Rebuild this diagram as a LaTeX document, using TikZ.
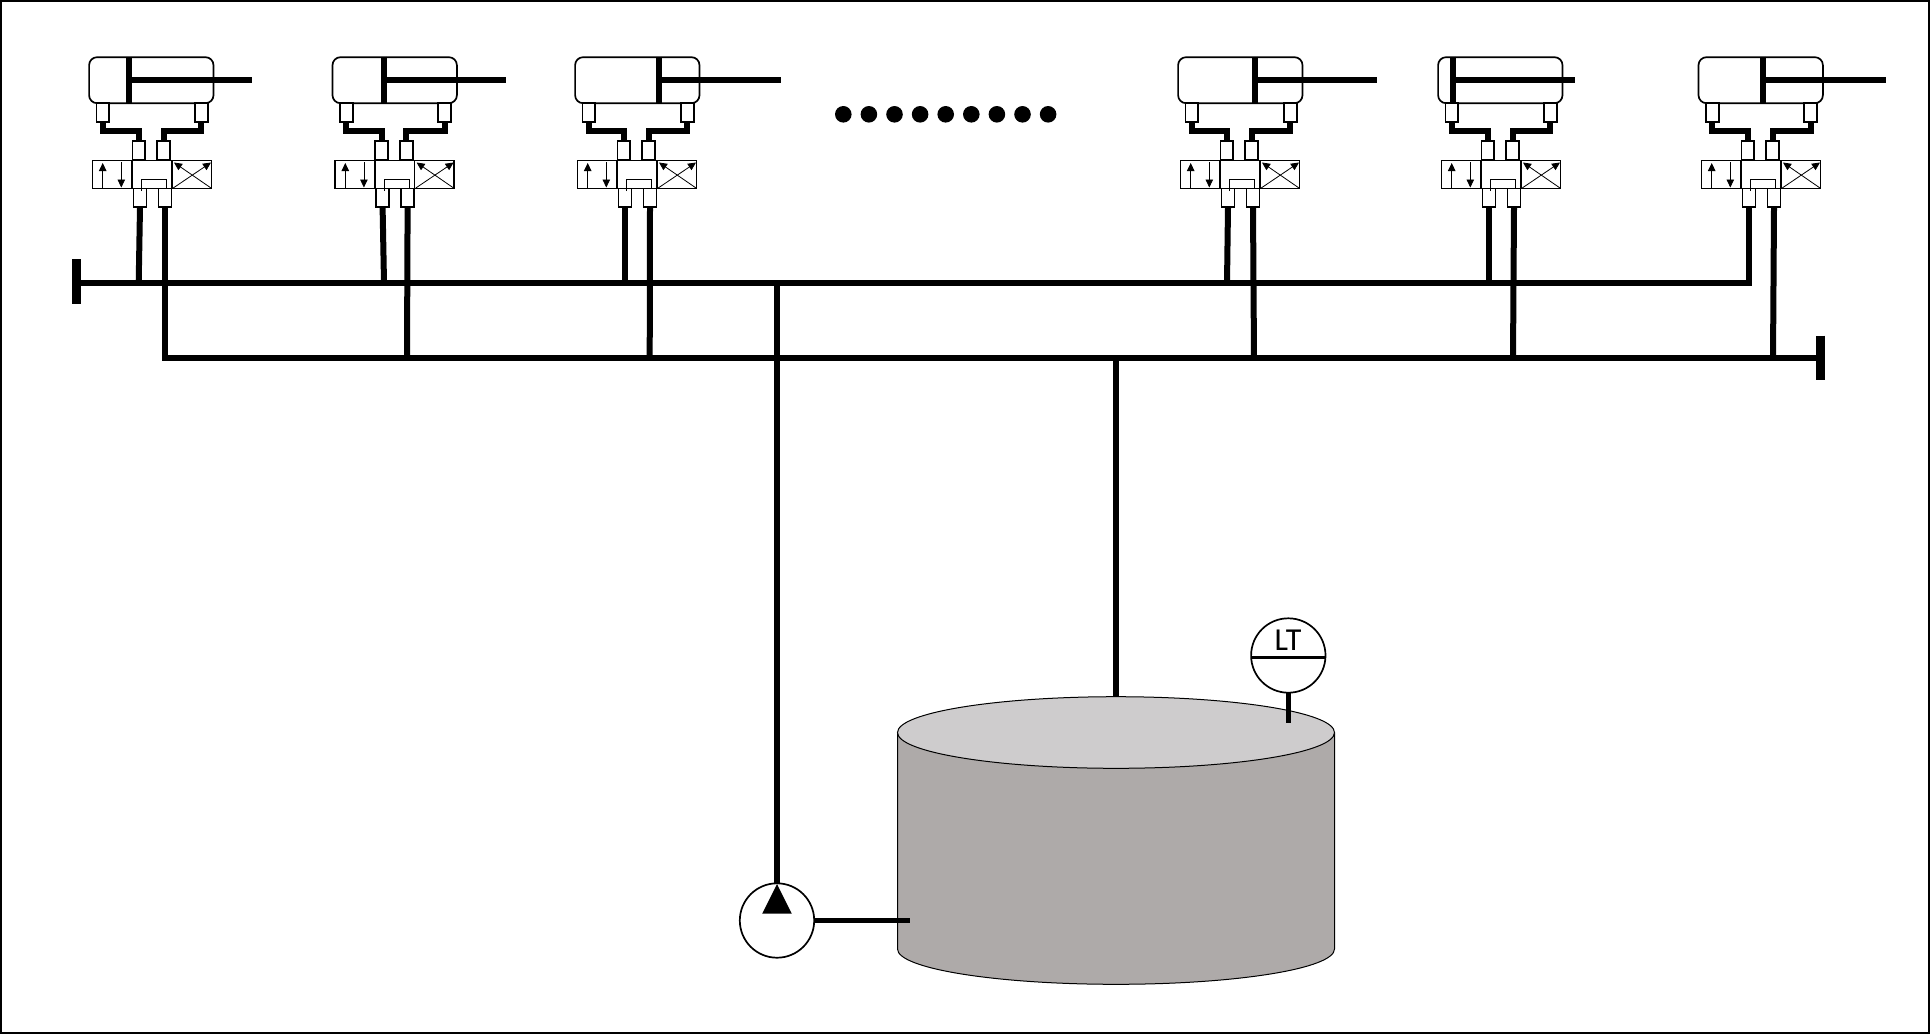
\documentclass[tikz,border=0pt]{standalone}
\usepackage{xcolor}
\usepackage{fontspec}
\setsansfont{Carlito}
\usetikzlibrary{arrows.meta}
\definecolor{tanktop}{HTML}{CECCCD}
\definecolor{tankbody}{HTML}{AEAAA9}
\tikzset{
  pipe/.style={line width=6pt},
  outline/.style={draw, line width=1.7pt, inner sep=0pt, outer sep=0pt},
  cylbody/.style={outline, rounded corners=8pt, anchor=north west, minimum width=124.4pt, minimum height=46pt},
  portbox/.style={outline, fill=white, anchor=north, minimum width=12.8pt, minimum height=18.8pt},
  valvecell/.style={outline, anchor=north west, minimum width=39.7pt, minimum height=28pt},
  thinarrow/.style={line width=0.8pt, -{Triangle[length=8pt,width=7.5pt]}},
  gauge/.style={outline, fill=white, circle, minimum size=74.4pt}
}

\begin{document}
\begin{tikzpicture}[x=1pt, y=-1pt]
  \useasboundingbox (0,0) rectangle (1930,1034);

  % Outer frame
  \draw[line width=2pt] (1,1) rectangle (1929,1033);

  % === TANK ===
  \fill[tankbody] (897.5,732.5) -- (897.5,949)
    arc[start angle=180, end angle=0, x radius=218.5, y radius=35.3] -- (1334.5,732.5) -- cycle;
  \draw[line width=1pt] (897.5,732.5) -- (897.5,949)
    arc[start angle=180, end angle=0, x radius=218.5, y radius=35.3] -- (1334.5,732.5);
  \draw[fill=tanktop, line width=1pt] (1116,732.5) ellipse[x radius=218.5, y radius=35.8];

  % === MAIN LINES ===
  \coordinate (buspress) at (777,282.7);
  \coordinate (busreturn) at (1116,358.3);
  \draw[pipe] (1116,696.7) -- (busreturn);

  % Pump and level transmitter
  \node[gauge] (pump) at (777,920.5) {};
  \draw[pipe] (buspress) -- (pump.north);
  \fill (777,884) -- (791.8,913.7) -- (762.2,913.7) -- cycle;
  \draw[line width=4.8pt] (pump.east) -- (909.6,920.5);

  \node[gauge] (lt) at (1288.3,655.5) {};
  \draw[line width=3pt] ([yshift=-1.5pt]lt.west) -- ([yshift=-1.5pt]lt.east);
  \draw[line width=5pt] (lt.south) -- (1288.3,723);
  \node[anchor=base, inner sep=0pt, font=\sffamily\fontsize{32}{36}\selectfont] (ltlabel) at (1288,650.7) {LT};

  % === CYLINDER AND VALVE UNITS ===
  % left of cylinder / left of valve / piston / rod end / lower pipe ends on the two lines
  \foreach \cl/\vl/\pist/\rodend/\lb/\rb [count=\i] in {
      88.3/91.7/129/251.7/138.7/165,
      331.7/334.3/384/506.3/384/407,
      574.3/576.7/659/781.3/625/649.7,
      1177.3/1179.7/1255/1377.3/1227/1254,
      1437.3/1440.7/1453/1575.3/1489/1513,
      1697.7/1700.7/1763/1885.7/1749/1773} {
    % Cylinder
    \node[cylbody] (cyl\i) at ({\cl+0.8},57.2) {};
    \draw[line width=5.6pt] (\pist,56.5) -- (\pist,103.5);
    \draw[line width=6pt] (\pist,80) -- (\rodend,80);

    % Ports
    \node[portbox] (cpa\i) at ({\cl+14.6},103.2) {};
    \node[portbox] (cpb\i) at ({\cl+113},103.2) {};
    \node[portbox] (vpa\i) at ({\vl+47.2},141) {};
    \node[portbox] (vpb\i) at ({\vl+72},141) {};
    \node[portbox, minimum width=13pt] (vqa\i) at ({\vl+48.3},188.5) {};
    \node[portbox, minimum width=13pt] (vqb\i) at ({\vl+73.3},188.5) {};

    % Pipes from cylinder to valve
    \draw[pipe] (cpa\i.south) -- ++(0,8.7) -| (vpa\i.north);
    \draw[pipe] (cpb\i.south) -- ++(0,8.7) -| (vpb\i.north);

    % Valve cells
    \node[valvecell] (vcl\i) at ({\vl+0.8},160.5) {};
    \node[valvecell] (vcm\i) at (vcl\i.north east) [anchor=north west] {};
    \node[valvecell] (vcr\i) at (vcm\i.north east) [anchor=north west] {};

    % Valve symbols
    \draw[thinarrow] ({\vl+11},188) -- ({\vl+11},163);
    \draw[thinarrow] ({\vl+29.6},162) -- ({\vl+29.6},187.5);
    \draw[thinarrow] ({\vl+81.5},188) -- ({\vl+119.3},162.5);
    \draw[thinarrow] ({\vl+119.3},188) -- ({\vl+82.3},162.5);
    \draw[line width=0.9pt] ({\vl+50},191) -- ({\vl+50},179) -- ({\vl+75},179) -- ({\vl+75},188);

    % Lower pipes
    \ifnum\i<6
      \draw[pipe] (vqa\i.south) -- (\lb,282.7);
    \fi
    \ifnum\i>1
      \draw[pipe] (vqb\i.south) -- (\rb,358.3);
    \fi
  }

  % Dots between the units
  \foreach \k in {0,...,8} {
    \fill ({843.3+25.6*\k},114.3) circle (8.3);
  }

  % Line ends, first line runs up into the last valve
  \draw[pipe] (76.7,282.7) -- (1749,282.7) -- (vqa6.south);
  \draw[line width=8.7pt] (76.7,259) -- (76.7,304);
  \draw[pipe] (vqb1.south) -- (165,358.3) -- (1820.5,358.3);
  \draw[line width=8.7pt] (1820.5,335.7) -- (1820.5,380);
\end{tikzpicture}
\end{document}
